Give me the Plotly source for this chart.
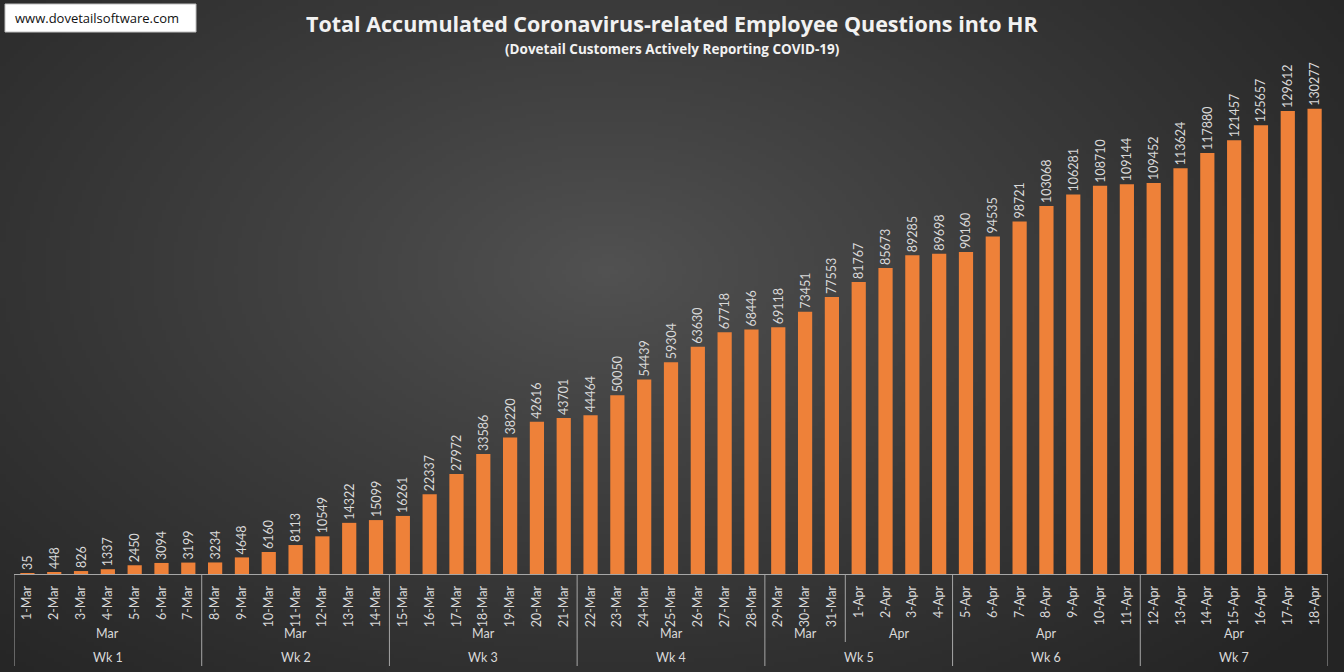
import base64, struct, zlib
import numpy as np
import plotly.graph_objects as go

days = ["1-Mar","2-Mar","3-Mar","4-Mar","5-Mar","6-Mar","7-Mar",
        "8-Mar","9-Mar","10-Mar","11-Mar","12-Mar","13-Mar","14-Mar",
        "15-Mar","16-Mar","17-Mar","18-Mar","19-Mar","20-Mar","21-Mar",
        "22-Mar","23-Mar","24-Mar","25-Mar","26-Mar","27-Mar","28-Mar",
        "29-Mar","30-Mar","31-Mar","1-Apr","2-Apr","3-Apr","4-Apr",
        "5-Apr","6-Apr","7-Apr","8-Apr","9-Apr","10-Apr","11-Apr",
        "12-Apr","13-Apr","14-Apr","15-Apr","16-Apr","17-Apr","18-Apr"]
values = [35, 448, 826, 1337, 2450, 3094, 3199,
          3234, 4648, 6160, 8113, 10549, 14322, 15099,
          16261, 22337, 27972, 33586, 38220, 42616, 43701,
          44464, 50050, 54439, 59304, 63630, 67718, 68446,
          69118, 73451, 77553, 81767, 85673, 89285, 89698,
          90160, 94535, 98721, 103068, 106281, 108710, 109144,
          109452, 113624, 117880, 121457, 125657, 129612, 130277]
# month groups: (label, first index, last index)
months = [("Mar", 0, 6), ("Mar", 7, 13), ("Mar", 14, 20), ("Mar", 21, 27),
          ("Mar", 28, 30), ("Apr", 31, 34), ("Apr", 35, 41), ("Apr", 42, 48)]
weeks = [("Wk 1", 0, 6), ("Wk 2", 7, 13), ("Wk 3", 14, 20), ("Wk 4", 21, 27),
         ("Wk 5", 28, 34), ("Wk 6", 35, 41), ("Wk 7", 42, 48)]

W, H = 1344, 672
ML, MR, MT, MB = 14, 16, 38, 98
PW, PH = W - ML - MR, H - MT - MB
AXIS_Y = H - MB

def py(p):
    return (AXIS_Y - p) / PH

def px(p):
    return (p - ML) / PW

# radial background image
iw, ih = 336, 168
yy, xx = np.mgrid[0:ih, 0:iw]
d = np.sqrt(((xx / iw - 0.45) / 0.70) ** 2 + ((yy / ih - 0.40) / 0.85) ** 2)
d = np.clip(d, 0, 1)
c_in, c_out = 82, 36
v = (c_in + (c_out - c_in) * d ** 0.9).astype(np.uint8)
img = np.stack([v, v, v], axis=-1)
raw = b"".join(b"\x00" + img[r].tobytes() for r in range(ih))
def chunk(t, data):
    c = struct.pack(">I", len(data)) + t + data
    return c + struct.pack(">I", zlib.crc32(t + data) & 0xffffffff)
png = (b"\x89PNG\r\n\x1a\n" + chunk(b"IHDR", struct.pack(">IIBBBBB", iw, ih, 8, 2, 0, 0, 0))
       + chunk(b"IDAT", zlib.compress(raw, 9)) + chunk(b"IEND", b""))
uri = "data:image/png;base64," + base64.b64encode(png).decode()

x = list(range(len(days)))
txtcol = "#d9d9d9"
fig = go.Figure(go.Bar(
    x=x, y=values, text=[str(v) for v in values], texttemplate="%{text}",
    textposition="outside", textangle=-90, constraintext="none", cliponaxis=False,
    textfont=dict(family="Lato", size=12.5, color=txtcol),
    marker=dict(color="#EE8139", line=dict(width=0)),
))

shapes = []
annotations = []
def ann(xv, yv, text, size, color=txtcol, family="Lato", xref="x", xanchor="center"):
    annotations.append(dict(x=xv, y=yv, xref=xref, yref="paper", text=text, showarrow=False,
                            xanchor=xanchor, yanchor="middle",
                            font=dict(family=family, size=size, color=color)))

# axis-area dividers
for b in [-0.5, 6.5, 13.5, 20.5, 27.5, 34.5, 41.5, 48.5]:
    shapes.append(dict(type="line", xref="x", yref="paper", x0=b, x1=b, y0=0, y1=py(666),
                       line=dict(color="#a6a6a6", width=1)))
shapes.append(dict(type="line", xref="x", yref="paper", x0=30.5, x1=30.5, y0=0, y1=py(642),
                   line=dict(color="#a6a6a6", width=1)))
for lab, a, b in months:
    ann((a + b) / 2, py(633), lab, 12.5)
for lab, a, b in weeks:
    ann((a + b) / 2, py(657), lab, 12.5)
# website box
shapes.append(dict(type="rect", xref="paper", yref="paper", x0=px(5), x1=px(196), y0=py(4), y1=py(32),
                   fillcolor="white", line=dict(color="#bfbfbf", width=1)))
ann(px(13), py(18), "www.dovetailsoftware.com", 13, color="#111111", family="Open Sans",
    xref="paper", xanchor="left")
# titles
ann(px(672), py(24), "<b>Total Accumulated Coronavirus-related Employee Questions into HR</b>",
    21.5, color="#f2f2f2", family="Open Sans", xref="paper")
ann(px(672), py(48.5), "<b>(Dovetail Customers Actively Reporting COVID-19)</b>",
    13.5, color="#f2f2f2", family="Open Sans", xref="paper")

fig.update_layout(
    width=W, height=H, margin=dict(l=ML, r=MR, t=MT, b=MB, pad=0),
    paper_bgcolor="#333333", plot_bgcolor="rgba(0,0,0,0)",
    bargap=0.47, showlegend=False,
    images=[dict(source=uri, xref="paper", yref="paper", x=px(0), y=py(0),
                 sizex=W / PW, sizey=H / PH, sizing="stretch", layer="below",
                 xanchor="left", yanchor="top")],
    xaxis=dict(range=[-0.5, 48.5], tickvals=x, ticktext=days, tickangle=-90,
               showgrid=False, zeroline=False, showline=True, linecolor="#a6a6a6",
               linewidth=1, ticks="", ticklabelstandoff=6,
               tickfont=dict(family="Lato", size=12.5, color=txtcol)),
    yaxis=dict(range=[0, PH * 280], visible=False, showgrid=False, zeroline=False),
    shapes=shapes, annotations=annotations,
)
fig.write_html("out.html")
